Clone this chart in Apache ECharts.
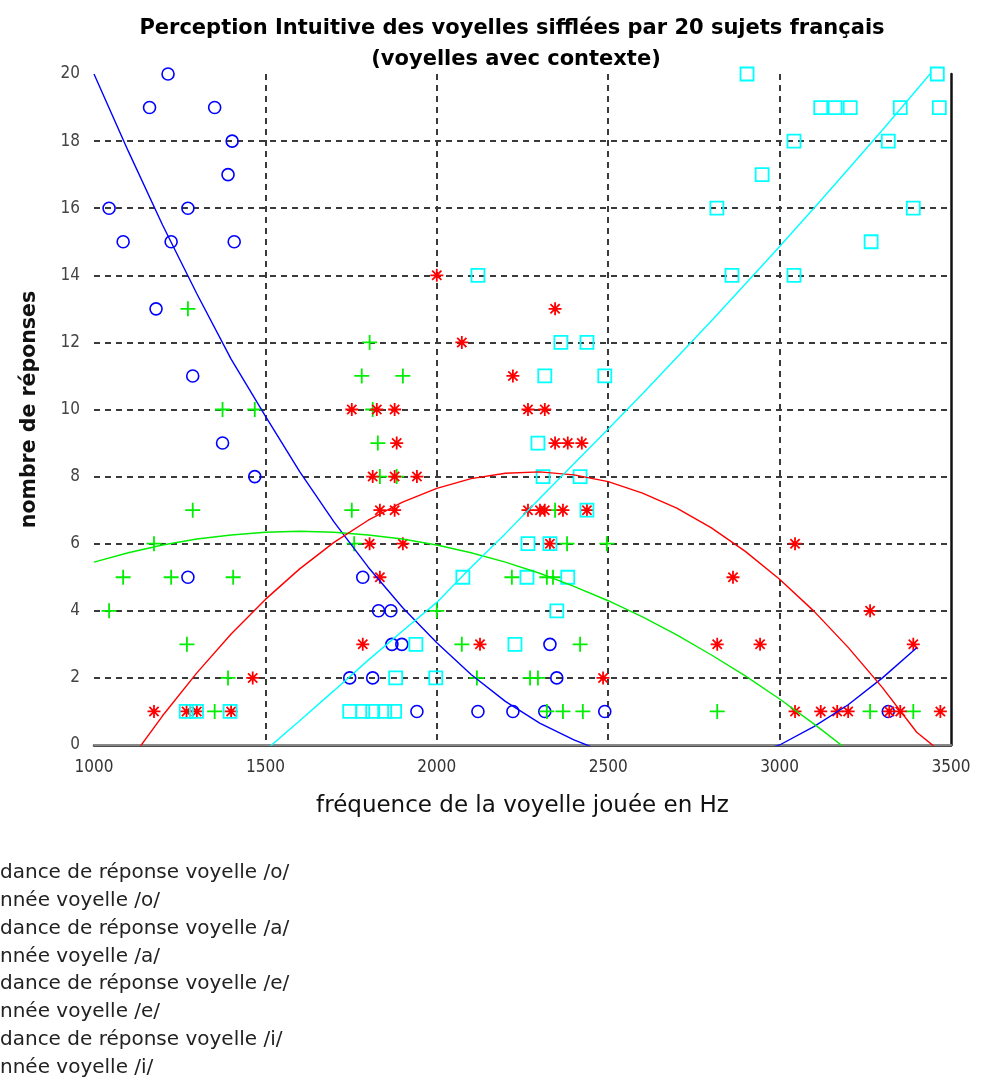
<!DOCTYPE html>
<html>
<head>
<meta charset="utf-8">
<script src="https://cdn.jsdelivr.net/npm/echarts@6/dist/echarts.min.js"></script>
<style>
  html, body { margin: 0; padding: 0; background: #ffffff; }
  #chart { width: 981px; height: 1084px; }
</style>
</head>
<body>
<div id="chart"></div>
<script>
// Axis ranges and tick labels
const xTickValues = [1000, 1500, 2000, 2500, 3000, 3500];
const yTickValues = [0, 2, 4, 6, 8, 10, 12, 14, 16, 18, 20];

// Responses per played frequency: [frequency (Hz), number of answers]
const responsesO = [
  [1216, 20], [1162, 19], [1352, 19], [1403, 18], [1391, 17], [1044, 16], [1274, 16],
  [1085, 15], [1225, 15], [1409, 15], [1181, 13], [1288, 11], [1375, 9], [1469, 8],
  [1274, 5], [1784, 5], [1830, 4], [1866, 4], [1869, 3], [1898, 3], [2330, 3],
  [1746, 2], [1813, 2], [2350, 2], [1942, 1], [2120, 1], [2222, 1], [2315, 1],
  [2490, 1], [3317, 1]
];
const responsesA = [
  [1274, 13], [1804, 12], [1781, 11], [1901, 11], [1375, 10], [1469, 10], [1813, 10],
  [1828, 9], [1834, 8], [1883, 8], [1288, 7], [1752, 7], [2345, 7], [1175, 6],
  [1759, 6], [2380, 6], [2496, 6], [1085, 5], [1225, 5], [1406, 5], [2219, 5],
  [2321, 5], [2339, 5], [1044, 4], [2000, 4], [1271, 3], [2073, 3], [2418, 3],
  [1391, 2], [2117, 2], [2272, 2], [2295, 2], [1352, 1], [2321, 1], [2368, 1],
  [2426, 1], [2818, 1], [3264, 1], [3390, 1]
];
const responsesE = [
  [2000, 14], [2345, 13], [2073, 12], [2222, 11], [1752, 10], [1825, 10], [1877, 10],
  [2266, 10], [2315, 10], [1883, 9], [2345, 9], [2382, 9], [2423, 9], [1813, 8],
  [1877, 8], [1942, 8], [1834, 7], [1877, 7], [2266, 7], [2301, 7], [2315, 7],
  [2368, 7], [2438, 7], [1804, 6], [1901, 6], [2330, 6], [3045, 6], [1834, 5],
  [2864, 5], [3264, 4], [1784, 3], [2126, 3], [2818, 3], [2943, 3], [3390, 3],
  [1463, 2], [2485, 2], [1175, 1], [1270, 1], [1300, 1], [1400, 1], [3045, 1],
  [3120, 1], [3168, 1], [3200, 1], [3320, 1], [3352, 1], [3469, 1]
];
const responsesI = [
  [2905, 20], [3460, 20], [3120, 19], [3162, 19], [3206, 19], [3352, 19], [3466, 19],
  [3042, 18], [3317, 18], [2949, 17], [2817, 16], [3390, 16], [3267, 15], [2120, 14],
  [2861, 14], [3042, 14], [2362, 12], [2438, 12], [2315, 11], [2490, 11], [2295, 9],
  [2310, 8], [2418, 8], [2438, 7], [2266, 6], [2330, 6], [2076, 5], [2263, 5],
  [2382, 5], [2350, 4], [1939, 3], [2228, 3], [1880, 2], [1997, 2], [1269, 1],
  [1299, 1], [1397, 1], [1746, 1], [1784, 1], [1813, 1], [1848, 1], [1877, 1]
];

// Response tendency curves: [frequency (Hz), number of answers]
const trendO = [
  [1000, 20.0], [1100, 17.7], [1200, 15.5], [1300, 13.45], [1400, 11.5], [1500, 9.8],
  [1600, 8.15], [1700, 6.65], [1800, 5.3], [1900, 4.1], [2000, 3.05], [2100, 2.1],
  [2200, 1.3], [2300, 0.65], [2400, 0.15], [2500, -0.25], [2700, -0.6], [2900, -0.3],
  [3000, 0.0], [3100, 0.55], [3200, 1.2], [3300, 2.0], [3400, 2.9]
];
const trendA = [
  [1000, 5.45], [1100, 5.73], [1200, 5.96], [1300, 6.14], [1400, 6.26], [1500, 6.34],
  [1600, 6.37], [1700, 6.34], [1800, 6.26], [1900, 6.14], [2000, 5.96], [2100, 5.73],
  [2200, 5.45], [2300, 5.12], [2400, 4.73], [2500, 4.3], [2600, 3.82], [2700, 3.28],
  [2800, 2.69], [2900, 2.06], [3000, 1.37], [3100, 0.63], [3200, -0.16]
];
const trendE = [
  [1000, -2.06], [1100, -0.53], [1200, 0.87], [1300, 2.15], [1400, 3.31], [1500, 4.34],
  [1600, 5.25], [1700, 6.04], [1800, 6.7], [1900, 7.24], [2000, 7.65], [2100, 7.94],
  [2200, 8.1], [2300, 8.14], [2400, 8.05], [2500, 7.85], [2600, 7.51], [2700, 7.06],
  [2800, 6.48], [2900, 5.77], [3000, 4.94], [3100, 3.99], [3200, 2.91], [3300, 1.71],
  [3400, 0.38], [3500, -0.45]
];
const trendI = [
  [1000, -4.3], [1500, -0.16], [1600, 0.72], [1700, 1.62], [1800, 2.53], [1900, 3.4],
  [2000, 4.25], [2100, 5.3], [2200, 6.3], [2300, 7.35], [2400, 8.38], [2500, 9.42],
  [2600, 10.47], [2700, 11.55], [2800, 12.63], [2900, 13.74], [3000, 14.86],
  [3100, 16.0], [3200, 17.16], [3300, 18.33], [3400, 19.53], [3500, 20.74]
];

// Legend lines below the plot
const legendLines = [
  'dance de réponse voyelle /o/',
  'nnée voyelle /o/',
  'dance de réponse voyelle /a/',
  'nnée voyelle /a/',
  'dance de réponse voyelle /e/',
  'nnée voyelle /e/',
  'dance de réponse voyelle /i/',
  'nnée voyelle /i/'
];

const titleLine1 = 'Perception Intuitive des voyelles sifflées par 20 sujets français';
const titleLine2 = '(voyelles avec contexte)';
const xName = 'fréquence de la voyelle jouée en Hz';
const yName = 'nombre de réponses';

const BLUE = '#0000ff', GREEN = '#00ee00', RED = '#ff0000', CYAN = '#00ffff';
const FONT_NARROW = "'Liberation Sans Narrow', 'DejaVu Sans Condensed', 'Liberation Sans', Arial, sans-serif";
const FONT_WIDE = "'DejaVu Sans', 'Liberation Sans', Arial, sans-serif";

const PLUS = 'path://M8,0L8,16M0,8L16,8';
const STAR = 'path://M8,0L8,16M0,8L16,8M2.3,2.3L13.7,13.7M2.3,13.7L13.7,2.3';

function markers(data, symbol, size, color, width) {
  return {
    type: 'scatter',
    data: data,
    symbol: symbol,
    symbolSize: size,
    itemStyle: { color: 'rgba(0,0,0,0)', borderColor: color, borderWidth: width, opacity: 1 },
    emphasis: { disabled: true },
    silent: true,
    z: 3
  };
}
function trend(data, color) {
  return {
    type: 'line',
    data: data,
    showSymbol: false,
    clip: true,
    lineStyle: { color: color, width: 1.4 },
    emphasis: { disabled: true },
    silent: true,
    z: 4
  };
}

const chart = echarts.init(document.getElementById('chart'), null, { renderer: 'canvas' });

const gridDash = { color: '#3a3a3a', width: 2, type: [6, 5] };

chart.setOption({
  animation: false,
  backgroundColor: '#ffffff',
  grid: { left: 94, right: 30, top: 74, bottom: 339, containLabel: false },
  xAxis: [
    {
      type: 'value', position: 'bottom',
      min: xTickValues[0], max: xTickValues[xTickValues.length - 1], interval: 500,
      axisLine: { show: true, lineStyle: { color: '#111', width: 2.5 } },
      axisTick: { show: false },
      axisLabel: { color: '#333', fontSize: 17, fontFamily: FONT_NARROW, margin: 14,
        formatter: v => String(v) },
      splitLine: { show: true, showMinLine: false, showMaxLine: false, lineStyle: gridDash },
      name: xName, nameLocation: 'middle', nameGap: 50,
      nameTextStyle: { color: '#111', fontSize: 23, fontFamily: FONT_WIDE }
    },
    {
      type: 'value', position: 'top',
      min: xTickValues[0], max: xTickValues[xTickValues.length - 1], interval: 500,
      axisLine: { show: true, lineStyle: { color: '#888', width: 2 } },
      axisTick: { show: false }, axisLabel: { show: false }, splitLine: { show: false }
    }
  ],
  yAxis: [
    {
      type: 'value', position: 'left',
      min: yTickValues[0], max: yTickValues[yTickValues.length - 1], interval: 2,
      axisLine: { show: false }, axisTick: { show: false },
      axisLabel: { color: '#444', fontSize: 17, fontFamily: FONT_NARROW, margin: 14,
        formatter: v => String(v) },
      splitLine: { show: true, showMinLine: false, showMaxLine: false, lineStyle: gridDash },
      name: yName, nameLocation: 'middle', nameGap: 54, nameRotate: 90,
      nameTextStyle: { color: '#111', fontSize: 20.5, fontWeight: 'bold', fontFamily: FONT_WIDE }
    },
    {
      type: 'value', position: 'right',
      min: yTickValues[0], max: yTickValues[yTickValues.length - 1], interval: 2,
      axisLine: { show: true, lineStyle: { color: '#111', width: 2.5 } },
      axisTick: { show: false }, axisLabel: { show: false }, splitLine: { show: false }
    }
  ],
  series: [
    markers(responsesO, 'circle', 12, BLUE, 1.6),
    trend(trendO, BLUE),
    markers(responsesA, PLUS, 15, GREEN, 1.8),
    trend(trendA, GREEN),
    markers(responsesE, STAR, 13, RED, 1.8),
    trend(trendE, RED),
    markers(responsesI, 'rect', 13, CYAN, 1.8),
    trend(trendI, CYAN)
  ],
  graphic: [
    { type: 'text', x: 512, y: 29, style: {
        text: titleLine1, fill: '#000', font: "bold 21px " + FONT_WIDE,
        textAlign: 'center', textVerticalAlign: 'middle' } },
    { type: 'text', x: 516, y: 60, style: {
        text: titleLine2, fill: '#000', font: "bold 21px " + FONT_WIDE,
        textAlign: 'center', textVerticalAlign: 'middle' } }
  ].concat(legendLines.map((t, i) => ({
    type: 'text', x: 0, y: 873 + i * 27.8,
    style: { text: t, fill: '#222', font: "20px " + FONT_WIDE, textVerticalAlign: 'middle' }
  })))
});
</script>
</body>
</html>
